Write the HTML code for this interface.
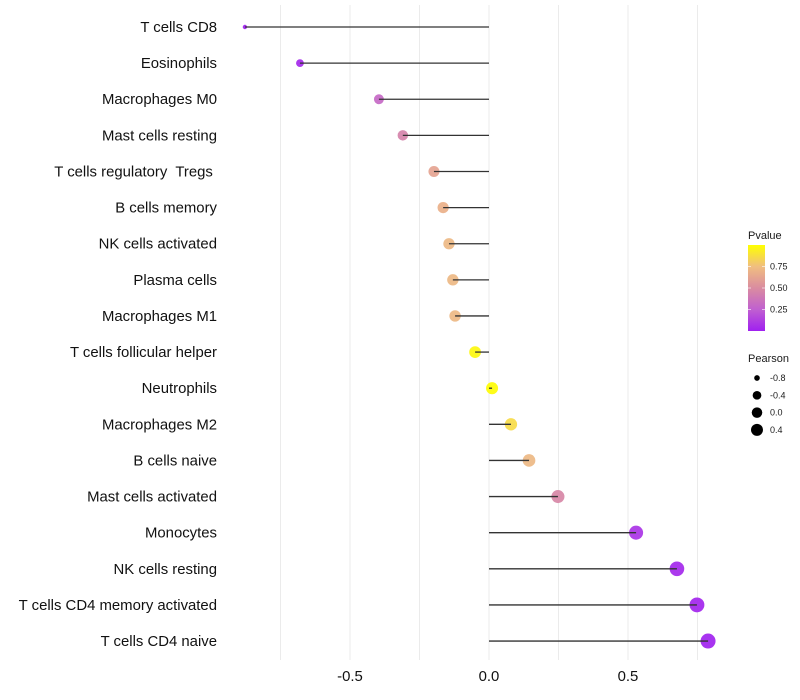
<!DOCTYPE html>
<html><head><meta charset="utf-8"><style>
body{margin:0;background:#fff}
svg{display:block;font-family:"Liberation Sans",sans-serif}
svg text{white-space:pre}
</style></head><body>
<svg id="chart" width="800" height="700"></svg>
<script>
const categories=["T cells CD8","Eosinophils","Macrophages M0","Mast cells resting","T cells regulatory  Tregs ","B cells memory","NK cells activated","Plasma cells","Macrophages M1","T cells follicular helper","Neutrophils","Macrophages M2","B cells naive","Mast cells activated","Monocytes","NK cells resting","T cells CD4 memory activated","T cells CD4 naive"];
const pearson=[-0.878,-0.68,-0.396,-0.31,-0.198,-0.165,-0.144,-0.13,-0.122,-0.05,0.011,0.079,0.144,0.248,0.529,0.676,0.748,0.788];
const pvalue=[0.0,0.03,0.3,0.45,0.62,0.68,0.72,0.72,0.72,0.97,0.99,0.86,0.72,0.47,0.08,0.03,0.02,0.01];
const xTicks=[-0.5,0.0,0.5];
const xTickLabels=["-0.5","0.0","0.5"];
const xGrid=[-0.75,-0.5,-0.25,0,0.25,0.5,0.75];
const sizeLegend=[-0.8,-0.4,0.0,0.4];
const sizeLegendLabels=["-0.8","-0.4","0.0","0.4"];
const colorLegend=[0.75,0.5,0.25];
const colorLegendLabels=["0.75","0.50","0.25"];

const NS="http://www.w3.org/2000/svg";
const svg=document.getElementById('chart');
function el(t,a,p){const e=document.createElementNS(NS,t);for(const k in a)e.setAttribute(k,a[k]);(p||svg).appendChild(e);return e;}
const x=v=>489+v*278;
const y=i=>27+i*36.12;
const r=v=>2+5.5*Math.sqrt(Math.max(0,(v+0.88)/1.67));
const stops=[[0,[160,32,240]],[0.25,[192,96,208]],[0.5,[218,140,160]],[0.75,[240,190,128]],[1,[255,255,0]]];
function col(p){for(let i=1;i<stops.length;i++){if(p<=stops[i][0]){const a=stops[i-1],b=stops[i],t=(p-a[0])/(b[0]-a[0]);return 'rgb('+a[1].map((c,j)=>Math.round(c+(b[1][j]-c)*t)).join(',')+')';}}return 'rgb(255,255,0)';}

xGrid.forEach(v=>{const g=el('line',{x1:x(v),x2:x(v),y1:5,y2:660,stroke:'#ebebeb','stroke-width':1});

});

categories.forEach((c,i)=>{
 const t=el('text',{x:217,y:y(i)+5,'text-anchor':'end','font-size':14.9,fill:'#111'});t.textContent=c;
 
 
 const d=el('circle',{cx:x(pearson[i]),cy:y(i),r:r(pearson[i]),fill:col(pvalue[i]),opacity:0.92});
 
 
 const l=el('line',{x1:x(0),x2:x(pearson[i]),y1:y(i),y2:y(i),stroke:'#333','stroke-width':1.3});
 
 
});
xTicks.forEach((v,i)=>{const t=el('text',{x:x(v),y:681,'text-anchor':'middle','font-size':14.9,fill:'#111'});t.textContent=xTickLabels[i];

});

const lt=el('text',{x:748,y:239,'font-size':11,fill:'#1a1a1a'});lt.textContent='Pvalue';


const defs=el('defs',{});const lg=el('linearGradient',{id:'pg',x1:0,y1:1,x2:0,y2:0},defs);
stops.forEach(s=>el('stop',{offset:s[0],'stop-color':'rgb('+s[1].join(',')+')'},lg));
const bar=el('rect',{x:748,y:245,width:17,height:86,fill:'url(#pg)'});


colorLegend.forEach((v,i)=>{const yy=331-v*86;
 el('line',{x1:748,x2:751,y1:yy,y2:yy,stroke:'#fff','stroke-opacity':0.6});
 el('line',{x1:762,x2:765,y1:yy,y2:yy,stroke:'#fff','stroke-opacity':0.6});
 const t=el('text',{x:770,y:yy+3,'font-size':9,fill:'#1a1a1a'});t.textContent=colorLegendLabels[i];
 
 });
const st=el('text',{x:748,y:362,'font-size':11,fill:'#1a1a1a'});st.textContent='Pearson';


sizeLegend.forEach((v,i)=>{const yy=378+i*17.3;
 const c=el('circle',{cx:757,cy:yy,r:r(v)*0.88,fill:'#000'});
 
 
 const t=el('text',{x:770,y:yy+3,'font-size':9,fill:'#1a1a1a'});t.textContent=sizeLegendLabels[i];
 
 });
</script>
</body></html>
